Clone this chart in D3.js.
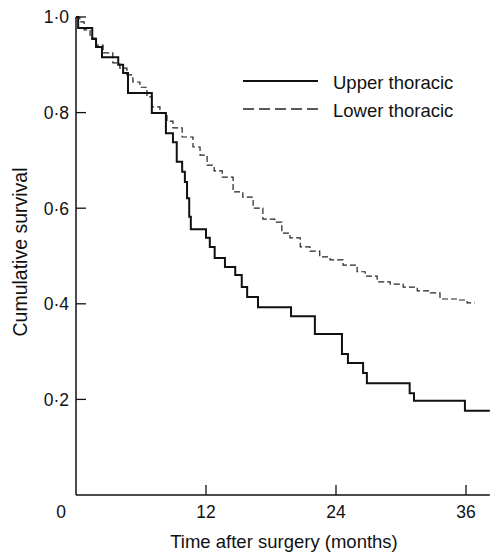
<!DOCTYPE html>
<html>
<head>
<meta charset="utf-8">
<script src="https://cdn.jsdelivr.net/npm/d3@7"></script>
<style>
  html, body { margin: 0; padding: 0; background: #fff; }
  svg { display: block; }
  text { font-family: "Liberation Sans", Arial, Helvetica, sans-serif; fill: #111; }
</style>
</head>
<body>
<svg id="chart" width="490" height="555"></svg>
<script>
// ---- data ----
const seriesNames = ["Upper thoracic", "Lower thoracic"];

const upperTimes = [0, 0.2, 1.5, 1.85, 2.4, 3.9, 4.35, 4.8, 7.0, 8.3, 8.95, 9.3, 9.8, 10.05, 10.25, 10.45, 10.6, 12.0, 12.35, 12.8, 13.75, 14.7, 15.3, 15.8, 16.8, 19.85, 22.05, 24.55, 25.1, 26.5, 26.85, 30.8, 31.2, 35.9, 38.2];
const upperSurv  = [1.0, 0.977, 0.954, 0.937, 0.916, 0.900, 0.883, 0.841, 0.799, 0.757, 0.738, 0.697, 0.676, 0.655, 0.621, 0.582, 0.556, 0.538, 0.519, 0.496, 0.477, 0.460, 0.435, 0.414, 0.393, 0.374, 0.337, 0.295, 0.276, 0.255, 0.234, 0.213, 0.197, 0.176, 0.176];

const lowerTimes = [0, 0.35, 0.75, 1.3, 1.85, 2.5, 3.4, 4.05, 4.7, 5.25, 5.9, 6.55, 7.0, 7.75, 8.4, 8.95, 9.8, 10.8, 11.45, 12.1, 12.75, 13.5, 14.5, 15.4, 16.35, 17.25, 18.35, 19.0, 19.75, 20.7, 21.6, 22.5, 23.45, 24.65, 25.95, 26.7, 27.8, 29.0, 30.2, 31.5, 32.7, 33.6, 35.2, 36.1, 36.8];
const lowerSurv  = [1.0, 0.99, 0.973, 0.956, 0.941, 0.925, 0.904, 0.893, 0.879, 0.864, 0.853, 0.833, 0.812, 0.799, 0.782, 0.768, 0.749, 0.728, 0.711, 0.690, 0.678, 0.665, 0.634, 0.623, 0.600, 0.577, 0.571, 0.548, 0.538, 0.519, 0.510, 0.498, 0.492, 0.481, 0.467, 0.458, 0.446, 0.441, 0.435, 0.427, 0.423, 0.410, 0.408, 0.402, 0.402];

const xTicks = [12, 24, 36];
const xTickLabels = ["12", "24", "36"];
const yTicks = [0.2, 0.4, 0.6, 0.8, 1.0];
const yTickLabels = ["0·2", "0·4", "0·6", "0·8", "1·0"];
const originLabel = "0";
const xTitle = "Time after surgery (months)";
const yTitle = "Cumulative survival";
const xMax = 38.2;

// ---- drawing ----
const svg = d3.select("#chart");
const x = d3.scaleLinear().domain([0, 36]).range([76, 466]);
const y = d3.scaleLinear().domain([0, 1]).range([495, 17]);
const ink = "#111";

// axes lines
svg.append("line").attr("x1", x(0)).attr("x2", x(xMax)).attr("y1", y(0)).attr("y2", y(0))
  .attr("stroke", ink).attr("stroke-width", 1.5);
svg.append("line").attr("x1", x(0)).attr("x2", x(0)).attr("y1", y(0)).attr("y2", y(1.0))
  .attr("stroke", ink).attr("stroke-width", 1.5);

// x ticks (inward)
svg.selectAll(".xt").data(xTicks).enter().append("line")
  .attr("x1", d => x(d)).attr("x2", d => x(d)).attr("y1", y(0)).attr("y2", y(0) - 10)
  .attr("stroke", ink).attr("stroke-width", 1.3);
svg.selectAll(".xl").data(xTicks).enter().append("text")
  .attr("x", d => x(d)).attr("y", 518).attr("text-anchor", "middle")
  .attr("font-size", "17.5px").text((d, i) => xTickLabels[i]);
svg.append("text").attr("x", 61).attr("y", 518).attr("text-anchor", "middle")
  .attr("font-size", "17.5px").text(originLabel);

// y ticks (inward)
svg.selectAll(".yt").data(yTicks).enter().append("line")
  .attr("x1", x(0)).attr("x2", x(0) + 10).attr("y1", d => y(d)).attr("y2", d => y(d))
  .attr("stroke", ink).attr("stroke-width", 1.3);
svg.selectAll(".yl").data(yTicks).enter().append("text")
  .attr("x", 69).attr("y", d => y(d)).attr("dy", "0.36em").attr("text-anchor", "end")
  .attr("font-size", "17.5px").text((d, i) => yTickLabels[i]);

// titles
svg.append("text").attr("x", 284).attr("y", 548).attr("text-anchor", "middle")
  .attr("font-size", "18.5px").text(xTitle);
svg.append("text").attr("transform", "translate(27,252) rotate(-90)").attr("text-anchor", "middle")
  .attr("font-size", "19.5px").text(yTitle);

// curves
const line = d3.line().x(d => x(d[0])).y(d => y(d[1])).curve(d3.curveStepAfter);
const upper = upperTimes.map((t, i) => [t, upperSurv[i]]);
const lower = lowerTimes.map((t, i) => [t, lowerSurv[i]]);

svg.append("path").datum(lower).attr("d", line).attr("fill", "none")
  .attr("stroke", "#222").attr("stroke-width", 1.2).attr("stroke-dasharray", "6,3");
svg.append("path").datum(upper).attr("d", line).attr("fill", "none")
  .attr("stroke", ink).attr("stroke-width", 2);

// legend
const legY = [81, 109];
svg.append("line").attr("x1", 243).attr("x2", 318).attr("y1", legY[0]).attr("y2", legY[0])
  .attr("stroke", ink).attr("stroke-width", 2);
svg.append("line").attr("x1", 243).attr("x2", 318).attr("y1", legY[1]).attr("y2", legY[1])
  .attr("stroke", "#222").attr("stroke-width", 1.3).attr("stroke-dasharray", "11,5");
svg.selectAll(".lg").data(seriesNames).enter().append("text")
  .attr("x", 333).attr("y", (d, i) => legY[i] + 8).attr("font-size", "18.5px").text(d => d);
</script>
</body>
</html>
